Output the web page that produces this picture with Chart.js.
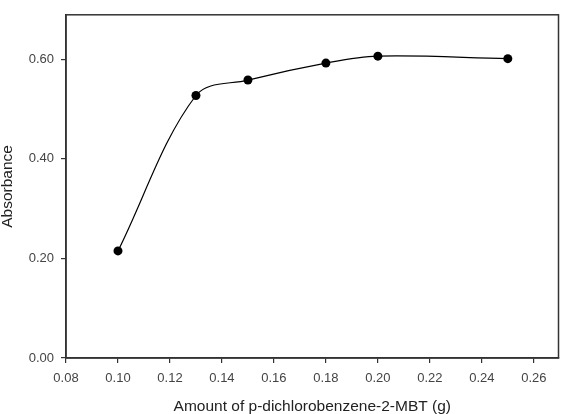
<!DOCTYPE html>
<html>
<head>
<meta charset="utf-8">
<script src="https://cdn.jsdelivr.net/npm/chart.js@4.4.1/dist/chart.umd.min.js"></script>
<style>
  html, body { margin: 0; padding: 0; background: #fff; }
  #wrap { width: 563px; height: 414px; }
</style>
</head>
<body>
<div id="wrap"><canvas id="absChart" width="563" height="414"></canvas></div>
<script>
// amount of p-dichlorobenzene-2-MBT (g) vs absorbance
const amounts = [0.10, 0.13, 0.15, 0.18, 0.20, 0.25];
const absorbance = [0.215, 0.527, 0.558, 0.592, 0.606, 0.601];
const xTicks = [0.08, 0.10, 0.12, 0.14, 0.16, 0.18, 0.20, 0.22, 0.24, 0.26];
const yTicks = [0.00, 0.20, 0.40, 0.60];

const axisColor = '#333';
const textColor = '#444';

// box around the plot area (top and right edges)
const frame = {
    id: 'frame',
    afterDraw(chart) {
        const a = chart.chartArea;
        const ctx = chart.ctx;
        ctx.save();
        ctx.strokeStyle = axisColor;
        ctx.lineWidth = 1.5;
        ctx.strokeRect(a.left, a.top, a.right - a.left, a.bottom - a.top);
        ctx.restore();
    }
};

const ctx = document.getElementById('absChart').getContext('2d');
new Chart(ctx, {
    type: 'line',
    data: {
        datasets: [{
            data: amounts.map((x, i) => ({ x: x, y: absorbance[i] })),
            borderColor: '#000',
            borderWidth: 1.2,
            backgroundColor: '#000',
            pointRadius: 4.5,
            pointBackgroundColor: '#000',
            pointBorderWidth: 0,
            tension: 0.35,
            fill: false
        }]
    },
    plugins: [frame],
    options: {
        responsive: false,
        animation: false,
        layout: { padding: { top: 10, right: 4, left: 0, bottom: 0 } },
        plugins: { legend: { display: false }, tooltip: { enabled: false } },
        scales: {
            x: {
                type: 'linear',
                min: 0.08,
                max: 0.2695,
                afterBuildTicks: s => { s.ticks = xTicks.map(v => ({ value: v })); },
                afterFit: s => { s.height = 56; },
                grid: { drawOnChartArea: false, tickLength: 5, color: axisColor, lineWidth: 1.2 },
                border: { color: axisColor, width: 1.5 },
                ticks: {
                    color: textColor,
                    font: { family: 'Liberation Sans, Arial', size: 13 },
                    padding: 8,
                    maxRotation: 0,
                    callback: v => v.toFixed(2)
                },
                title: {
                    display: true,
                    text: 'Amount of p-dichlorobenzene-2-MBT (g)',
                    color: '#222',
                    font: { family: 'Liberation Sans, Arial', size: 15.5, lineHeight: 1 },
                    padding: { top: 0, bottom: 0 }
                }
            },
            y: {
                min: 0,
                max: 0.689,
                afterBuildTicks: s => { s.ticks = yTicks.map(v => ({ value: v })); },
                afterFit: s => { s.width = 66; },
                grid: { drawOnChartArea: false, tickLength: 5, color: axisColor, lineWidth: 1.2 },
                border: { color: axisColor, width: 1.5 },
                ticks: {
                    color: textColor,
                    font: { family: 'Liberation Sans, Arial', size: 13 },
                    padding: 7,
                    callback: v => v.toFixed(2)
                },
                title: {
                    display: true,
                    text: 'Absorbance',
                    color: '#222',
                    font: { family: 'Liberation Sans, Arial', size: 15.5, lineHeight: 1 },
                    padding: { top: 0, bottom: 0 }
                }
            }
        }
    }
});
</script>
</body>
</html>
